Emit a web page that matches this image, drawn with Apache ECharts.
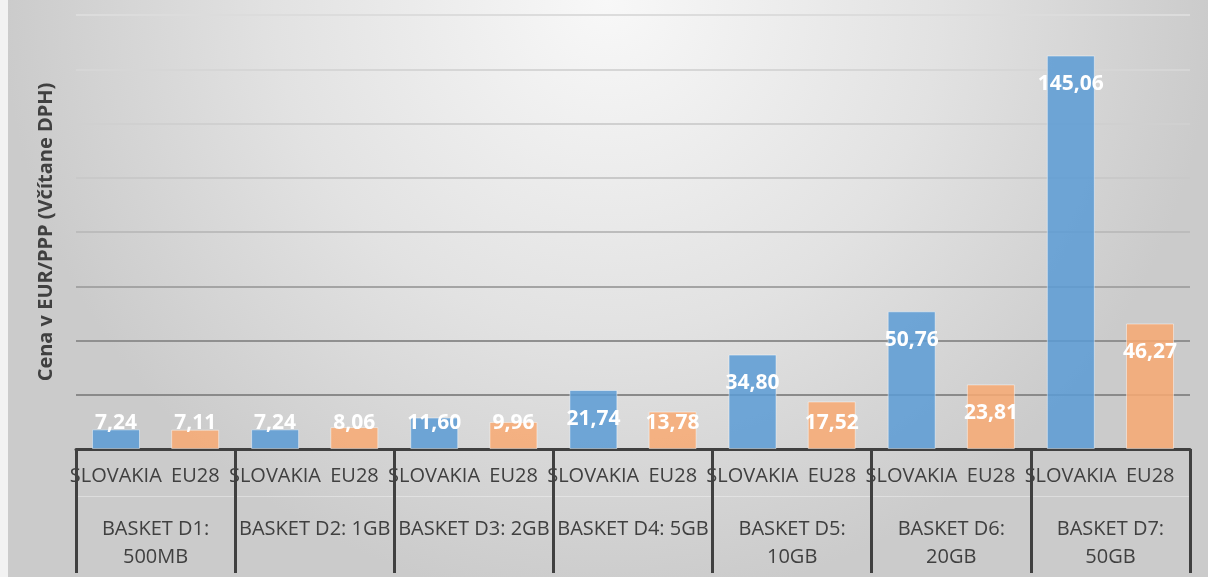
<!DOCTYPE html>
<html>
<head>
<meta charset="utf-8">
<script src="https://cdn.jsdelivr.net/npm/echarts@6/dist/echarts.min.js"></script>
<style>
  html, body { margin: 0; padding: 0; background: #f2f2f2; }
  #main { position: absolute; left: 8px; top: 0; width: 1200px; height: 577px; }
</style>
</head>
<body>
<div id="main"></div>
<script>
// kategorie (kose) a dve skupiny
var baskets = ['BASKET D1:\n500MB', 'BASKET D2: 1GB', 'BASKET D3: 2GB', 'BASKET D4: 5GB',
  'BASKET D5:\n10GB', 'BASKET D6:\n20GB', 'BASKET D7:\n50GB'];
var groups = ['SLOVAKIA', 'EU28'];
var slovakia = [7.24, 7.24, 11.60, 21.74, 34.80, 50.76, 145.06];
var eu28 = [7.11, 8.06, 9.96, 13.78, 17.52, 23.81, 46.27];
var yMin = 0, yMax = 160, yStep = 20;

// popisky pod kazdym stlpcom: SLOVAKIA, EU28, SLOVAKIA, ...
var innerLabels = [];
baskets.forEach(function () {
  groups.forEach(function (g) { innerLabels.push(g); });
});

var chart = echarts.init(document.getElementById('main'));

function fmt(p) {
  return p.value.toFixed(2).replace('.', ',');
}

// kratke stlpce - popisok drzime pri spodku (ako v Exceli)
function withLabels(values) {
  return values.map(function (v) {
    if (v < 19) {
      return { value: v, label: { position: 'insideBottom', distance: 15 } };
    }
    return { value: v };
  });
}

var labelStyle = {
  show: true,
  position: 'insideTop',
  distance: 18,
  formatter: fmt,
  color: '#ffffff',
  fontFamily: 'Open Sans',
  fontWeight: 'bold',
  fontSize: 21
};

var option = {
  backgroundColor: {
    type: 'radial', x: 0.5, y: 0, r: 1.05,
    colorStops: [
      { offset: 0, color: '#f8f8f8' },
      { offset: 0.55, color: '#e2e2e2' },
      { offset: 1, color: '#cbcbcb' }
    ]
  },
  grid: { left: 68, right: 18, top: 15, bottom: 128 },
  xAxis: [
    {
      type: 'category',
      data: baskets,
      axisLine: { lineStyle: { color: '#404040', width: 3 } },
      axisTick: { show: true, length: 124, lineStyle: { color: '#404040', width: 3 } },
      axisLabel: {
        interval: 0, margin: 66, color: '#404040',
        fontFamily: 'Open Sans', fontSize: 20, lineHeight: 28
      }
    },
    {
      type: 'category',
      data: innerLabels,
      position: 'bottom',
      axisLine: { show: false },
      axisTick: { show: false },
      axisLabel: {
        interval: 0, margin: 17, color: '#404040',
        fontFamily: 'Open Sans', fontSize: 20
      }
    },
    {
      type: 'category',
      data: innerLabels,
      position: 'bottom',
      offset: 47,
      axisLine: { lineStyle: { color: 'rgba(255,255,255,0.35)', width: 1 } },
      axisTick: { show: false },
      axisLabel: { show: false }
    }
  ],
  yAxis: {
    type: 'value',
    min: yMin, max: yMax, interval: yStep,
    name: 'Cena v EUR/PPP (Včítane DPH)',
    nameLocation: 'middle',
    nameGap: 20,
    nameTextStyle: { color: '#404040', fontFamily: 'Open Sans', fontWeight: 'bold', fontSize: 20 },
    axisLabel: { show: false },
    axisLine: { show: false },
    axisTick: { show: false },
    splitLine: {
      lineStyle: {
        width: 2,
        color: ['#404040', '#8a8a8a', '#909090', '#a4a4a4', '#bcbcbc', '#c9c9c9', '#d0d0d0', '#d6d6d6', '#dcdcdc']
      }
    }
  },
  series: [
    {
      name: groups[0], type: 'bar', xAxisIndex: 0,
      data: withLabels(slovakia),
      barWidth: 48, barGap: '65%',
      itemStyle: { color: 'rgba(91,155,213,0.85)', borderColor: 'rgba(255,255,255,0.45)', borderWidth: 1 },
      label: labelStyle
    },
    {
      name: groups[1], type: 'bar', xAxisIndex: 0,
      data: withLabels(eu28),
      barWidth: 48,
      itemStyle: { color: 'rgba(248,169,114,0.85)', borderColor: 'rgba(255,255,255,0.45)', borderWidth: 1 },
      label: labelStyle
    }
  ]
};

chart.setOption(option);
</script>
</body>
</html>
